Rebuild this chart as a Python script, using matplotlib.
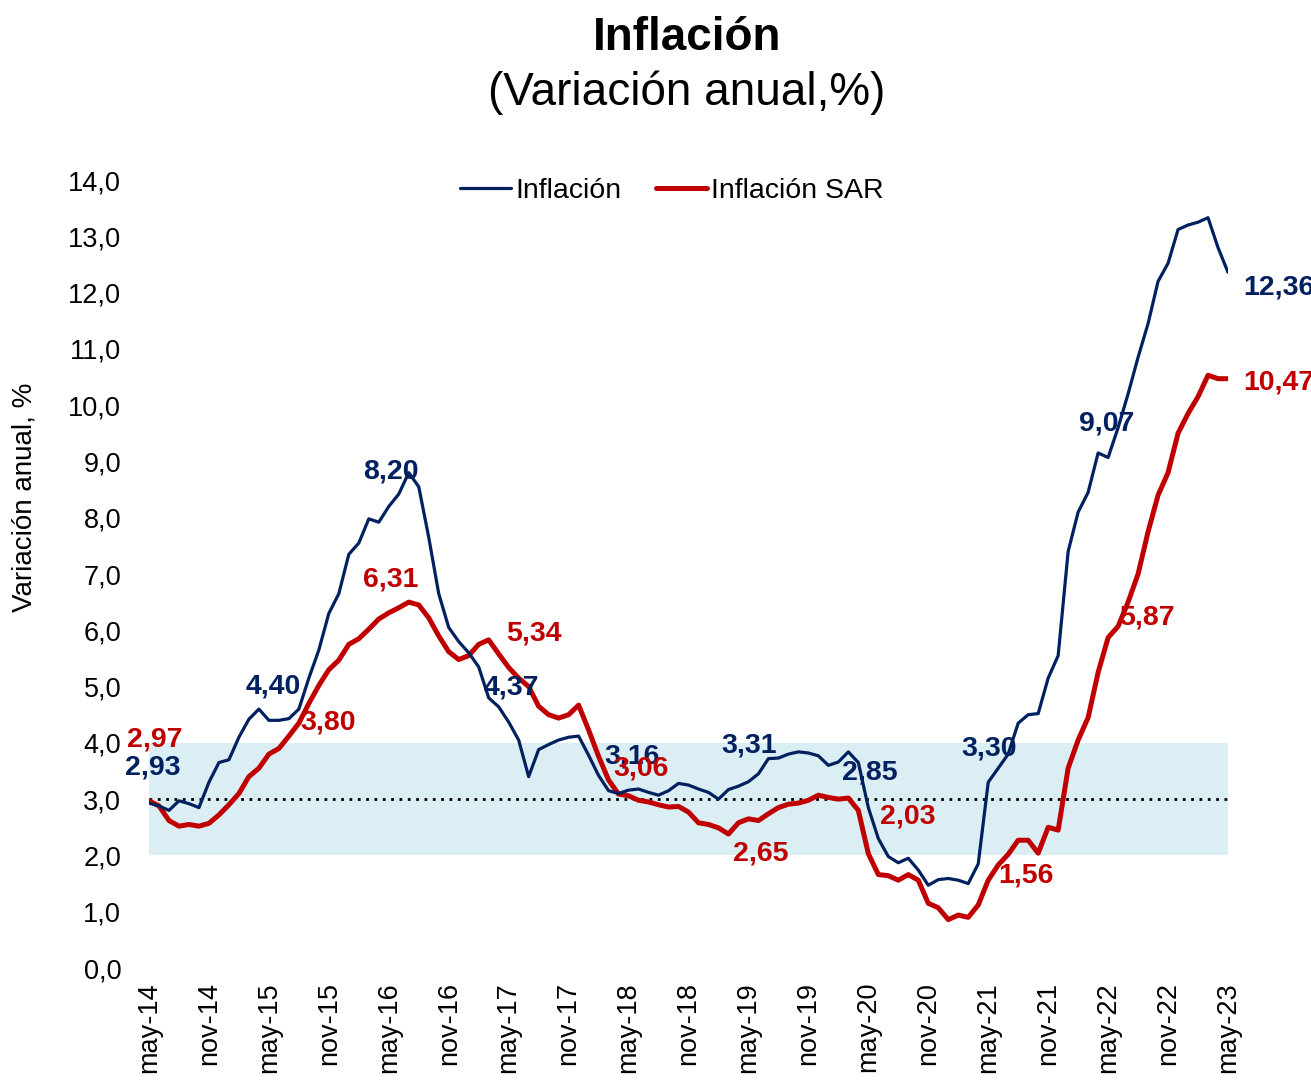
import matplotlib
matplotlib.use("Agg")
import matplotlib.pyplot as plt
import numpy as np

plt.rcParams['font.family'] = ['Liberation Sans', 'DejaVu Sans']

# Monthly data, may-14 .. may-23
inflacion = [
    2.93, 2.88, 2.80, 2.97, 2.92, 2.85, 3.30, 3.65, 3.70, 4.10, 4.42, 4.60,
    4.40, 4.40, 4.43, 4.60, 5.15, 5.65, 6.30, 6.65, 7.35, 7.55, 7.98, 7.92,
    8.20, 8.42, 8.80, 8.55, 7.65, 6.65, 6.05, 5.80, 5.60, 5.35, 4.80, 4.64,
    4.37, 4.05, 3.40, 3.88, 3.97, 4.05, 4.10, 4.12, 3.78, 3.42, 3.15, 3.10,
    3.16, 3.18, 3.12, 3.07, 3.15, 3.28, 3.25, 3.18, 3.12, 3.00, 3.17, 3.23,
    3.31, 3.45, 3.72, 3.73, 3.80, 3.84, 3.82, 3.77, 3.60, 3.66, 3.84, 3.65,
    2.85, 2.30, 1.98, 1.87, 1.95, 1.74, 1.47, 1.57, 1.59, 1.56, 1.50, 1.85,
    3.30, 3.55, 3.80, 4.35, 4.50, 4.52, 5.15, 5.55, 7.40, 8.10, 8.45, 9.15,
    9.07, 9.60, 10.20, 10.85, 11.45, 12.20, 12.52, 13.12, 13.20, 13.25, 13.33, 12.80,
    12.36,
]
inflacion_sar = [
    2.97, 2.88, 2.62, 2.52, 2.55, 2.52, 2.57, 2.72, 2.90, 3.10, 3.40, 3.55,
    3.80, 3.90, 4.12, 4.35, 4.70, 5.02, 5.30, 5.47, 5.75, 5.85, 6.02, 6.20,
    6.31, 6.40, 6.50, 6.45, 6.22, 5.90, 5.62, 5.48, 5.55, 5.75, 5.83, 5.58,
    5.34, 5.15, 5.00, 4.65, 4.50, 4.44, 4.50, 4.67, 4.23, 3.76, 3.34, 3.09,
    3.06, 2.98, 2.95, 2.90, 2.86, 2.87, 2.77, 2.58, 2.55, 2.49, 2.38, 2.58,
    2.65, 2.62, 2.74, 2.85, 2.91, 2.93, 2.98, 3.07, 3.03, 3.00, 3.02, 2.80,
    2.03, 1.66, 1.64, 1.56, 1.66, 1.56, 1.15, 1.07, 0.86, 0.94, 0.90, 1.12,
    1.56, 1.83, 2.02, 2.27, 2.27, 2.04, 2.50, 2.45, 3.55, 4.05, 4.45, 5.25,
    5.87, 6.07, 6.50, 7.00, 7.75, 8.40, 8.80, 9.50, 9.85, 10.15, 10.53, 10.47,
    10.47,
]
tick_labels = ["may-14", "nov-14", "may-15", "nov-15", "may-16", "nov-16",
               "may-17", "nov-17", "may-18", "nov-18", "may-19", "nov-19",
               "may-20", "nov-20", "may-21", "nov-21", "may-22", "nov-22", "may-23"]
label_idx = [0, 12, 24, 36, 48, 60, 72, 84, 96, 108]
meta_low, meta_high, meta_center = 2.0, 4.0, 3.0

BLUE = "#002060"
RED = "#C00000"
BAND = "#DAEEF3"

x = np.arange(len(inflacion))
fig = plt.figure(figsize=(13.11, 10.86), dpi=100)
ax = fig.add_axes([149/1311, 1-968/1086, 1079/1311, 788/1086])

ax.fill_between([x[0], x[-1]], meta_low, meta_high, color=BAND, lw=0, zorder=0)
ax.plot([x[0], x[-1]], [meta_center]*2, color="black", ls=(0, (1, 2)), lw=2, zorder=1)
ax.plot(x, inflacion, color=BLUE, lw=2.3, label="Inflación", zorder=3,
        solid_joinstyle='round', solid_capstyle='round')
ax.plot(x, inflacion_sar, color=RED, lw=3.6, label="Inflación SAR", zorder=2,
        solid_joinstyle='round', solid_capstyle='round')

ax.set_xlim(x[0], x[-1])
ax.set_ylim(0, 14)
ax.set_yticks(np.arange(0, 15, 1))
ax.set_yticklabels([f"{v:.1f}".replace(".", ",") for v in range(15)], fontsize=19.5)
ax.set_xticks(np.arange(0, len(x), 6))
ax.set_xticklabels(tick_labels, rotation=90, fontsize=19.5)
ax.tick_params(axis='y', length=0, pad=20)
ax.tick_params(axis='x', length=0, pad=10)
for s in ax.spines.values():
    s.set_visible(False)

ax.set_ylabel("Variación anual, %", fontsize=20)
ax.yaxis.set_label_coords((38-149)/1079, (968-497)/788)

# data labels (offsets in pixels)
blue_off = {0: (4, 36), 12: (4, 34), 24: (2, 35), 36: (3, 35), 48: (3, 34),
            60: (1, 36), 72: (1, 35), 84: (1, 34), 96: (-1, 34)}
red_off = {0: (6, 61), 12: (59, 32), 24: (2, 33), 36: (25, 34), 48: (12, 27),
           60: (12, -35), 72: (39, 37), 84: (38, 5), 96: (39, 20)}
fmt = lambda v: f"{v:.2f}".replace(".", ",")
for i in label_idx[:-1]:
    dx, dy = blue_off[i]
    ax.annotate(fmt(inflacion[i]), (x[i], inflacion[i]), xytext=(dx, dy),
                textcoords='offset pixels', ha='center', va='center',
                fontsize=20.5, fontweight='bold', color=BLUE, zorder=5)
    dx, dy = red_off[i]
    ax.annotate(fmt(inflacion_sar[i]), (x[i], inflacion_sar[i]), xytext=(dx, dy),
                textcoords='offset pixels', ha='center', va='center',
                fontsize=20.5, fontweight='bold', color=RED, zorder=5)
last = label_idx[-1]
ax.annotate(fmt(inflacion[last]), (x[last], inflacion[last]), xytext=(15, -15),
            textcoords='offset pixels', ha='left', va='center',
            fontsize=20.5, fontweight='bold', color=BLUE, annotation_clip=False)
ax.annotate(fmt(inflacion_sar[last]), (x[last], inflacion_sar[last]), xytext=(15, -4),
            textcoords='offset pixels', ha='left', va='center',
            fontsize=20.5, fontweight='bold', color=RED, annotation_clip=False)

leg = ax.legend(loc='center', bbox_to_anchor=(0.4845, 0.986), ncol=2, frameon=False,
                fontsize=20.5, handlelength=1.8, handletextpad=0.15, columnspacing=1.2)

fig.text(687/1311, 1-38/1086, "Inflación", ha='center', va='center',
         fontsize=33, fontweight='bold')
fig.text(687/1311, 1-93/1086, "(Variación anual,%)", ha='center', va='center',
         fontsize=33)

fig.savefig("out.png", dpi=100)
